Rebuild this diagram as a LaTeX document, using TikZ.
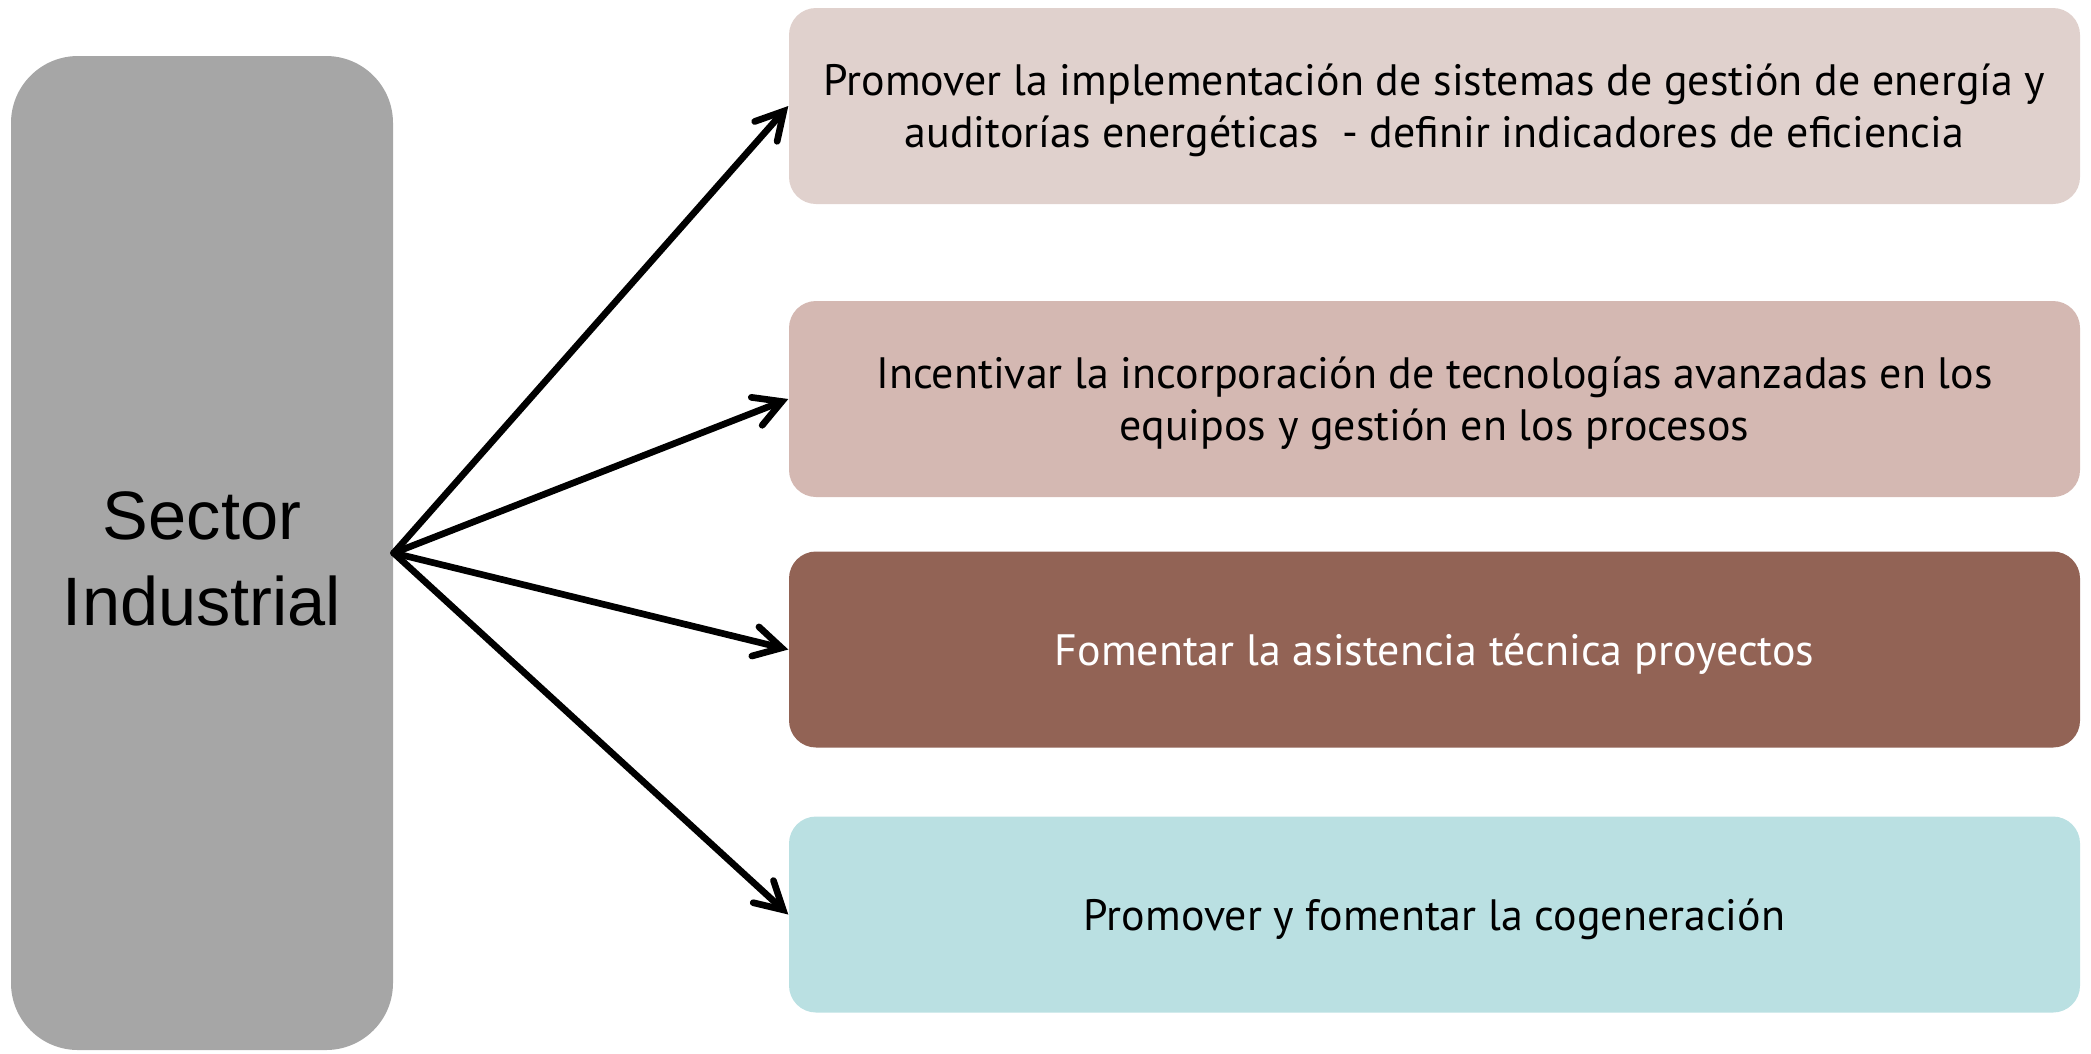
\documentclass[tikz,border=0pt]{standalone}
\usepackage{fontspec}
\setmainfont{PT Sans}
\newfontfamily\sectorfont{Liberation Sans}
\usetikzlibrary{arrows.meta}
\definecolor{grisbox}{HTML}{A6A6A6}
\definecolor{rosaclaro}{HTML}{E0D1CD}
\definecolor{rosa}{HTML}{D4B8B2}
\definecolor{cafe}{HTML}{926355}
\definecolor{celeste}{HTML}{BAE0E2}

\begin{document}
\begin{tikzpicture}

        \useasboundingbox (0,0) rectangle (20.91,-10.53);

        \node[fill=grisbox,rounded corners=0.67cm,minimum width=3.82cm,minimum height=9.94cm,
              align=center,text height=41.5pt,font=\sectorfont\fontsize{19.5}{24.4}\selectfont] (sector) at (2.02,-5.53) {Sector\\Industrial};

        \begin{scope}[every node/.style={rounded corners=0.27cm,minimum width=12.91cm,minimum height=1.96cm,
                                         align=center,text depth=0pt,font=\fontsize{12.5}{14.8}\selectfont}]
          \node[fill=rosaclaro] (gestion)  at (14.345,-1.06)  {Promover la implementación de sistemas de gestión de energía y\\auditorías energéticas~ - definir indicadores de eficiencia};
          \node[fill=rosa]      (tecno)    at (14.345,-3.99)  {Incentivar la incorporación de tecnologías avanzadas en los\\equipos y gestión en los procesos};
          \node[fill=cafe,text=white] (asist) at (14.345,-6.495) {Fomentar la asistencia técnica proyectos};
          \node[fill=celeste]   (cogen)    at (14.345,-9.145) {Promover y fomentar la cogeneración};
        \end{scope}

        \begin{scope}[every edge/.style={draw,line width=1.9pt,line cap=round,
                                         -{Straight Barb[length=0.27cm,width=0.3cm,line cap=round]}}]
          \path (sector.east) edge (gestion.west);
          \path (sector.east) edge (tecno.west);
          \path (sector.east) edge (asist.west);
          \path (sector.east) edge (cogen.west);
        \end{scope}

\end{tikzpicture}
\end{document}
